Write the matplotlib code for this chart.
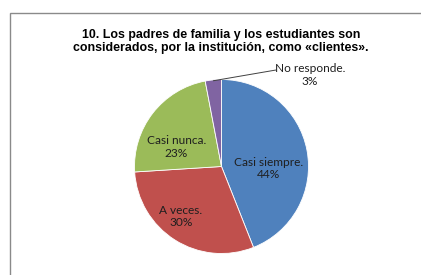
import matplotlib
matplotlib.use("Agg")
import matplotlib.pyplot as plt
from matplotlib.patches import Rectangle
import numpy as np

title = "10. Los padres de familia y los estudiantes son\nconsiderados, por la institución, como «clientes»."
categories = ["Casi siempre.", "A veces.", "Casi nunca.", "No responde."]
values = [44, 30, 23, 3]
colors = ["#4F81BD", "#C0504D", "#9BBB59", "#8064A2"]

W, H = 421, 275
fig = plt.figure(figsize=(W / 100, H / 100), dpi=100)
fig.patch.set_facecolor("white")

# outer chart frame (extends past right/bottom edges)
fig.patches.append(Rectangle((10 / W, -0.1), 1.2, (H - 13) / H + 0.1,
                             transform=fig.transFigure, fill=False,
                             edgecolor="#8a8a8a", linewidth=1.0))

fig.text(221 / W, 1 - 41.5 / H, title, ha="center", va="center",
         fontsize=8.9, fontweight="bold", family="Liberation Sans",
         linespacing=1.1, color="#000000")

cx, cy, r = 221.5, 166.5, 87
ax = fig.add_axes([(cx - r) / W, (H - cy - r) / H, 2 * r / W, 2 * r / H])
wedges, _ = ax.pie(values, colors=colors, startangle=90, counterclock=False,
                   radius=1, wedgeprops=dict(edgecolor="white", linewidth=0.6))
ax.set_xlim(-1, 1)
ax.set_ylim(-1, 1)
ax.set_aspect("equal")
ax.axis("off")

lab_font = dict(family="Lato", fontsize=8.6, ha="center", va="center",
                linespacing=1.15, color="#1f1f1f")
# label positions (pixels in figure)
pos = [(268.5, 168.5), (181, 216.5), (176.5, 147), (310, 75)]
for cat, val, (px, py), c in zip(categories, values, pos, colors):
    txt = f"{cat}\n{val}%"
    fig.text(px / W, 1 - py / H, txt, **lab_font)

# leader line for the small wedge
w = wedges[3]
mid = np.deg2rad((w.theta1 + w.theta2) / 2)
x0, y0 = np.cos(mid) * 0.99, np.sin(mid) * 0.99
ax.annotate("", xy=(x0, y0), xytext=((276 - cx) / r, (cy - 70) / r),
            arrowprops=dict(arrowstyle="-", color="#404040", lw=0.7,
                            shrinkA=0, shrinkB=0),
            annotation_clip=False)

fig.savefig("out.png", dpi=100, facecolor="white")
